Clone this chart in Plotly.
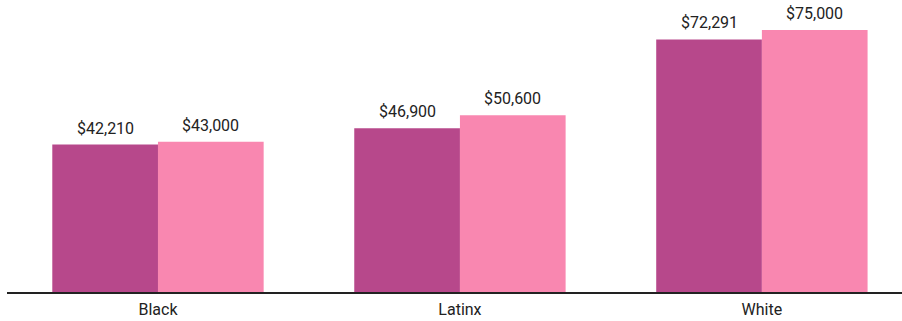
import plotly.graph_objects as go

categories = ["Black", "Latinx", "White"]
series_a = [42210, 46900, 72291]
series_b = [43000, 50600, 75000]
labels_a = ["$42,210", "$46,900", "$72,291"]
labels_b = ["$43,000", "$50,600", "$75,000"]

fig = go.Figure()
fig.add_trace(go.Bar(x=categories, y=series_a, marker_color="#b7488b",
                     marker_line_width=0, hoverinfo="skip"))
fig.add_trace(go.Bar(x=categories, y=series_b, marker_color="#f987b0",
                     marker_line_width=0, hoverinfo="skip"))

bar_w = (1 - 0.30) / 2
for i in range(len(categories)):
    for vals, labs, off in ((series_a, labels_a, -bar_w / 2), (series_b, labels_b, bar_w / 2)):
        fig.add_annotation(x=i + off, y=vals[i], text=labs[i], showarrow=False,
                           yanchor="bottom", yshift=5,
                           font=dict(size=16, color="#222", family="Roboto"))

fig.update_layout(
    width=902, height=321,
    margin=dict(l=7, r=0, t=0, b=29),
    barmode="group", bargap=0.30, bargroupgap=0,
    plot_bgcolor="white", paper_bgcolor="white",
    showlegend=False,
    font=dict(family="Roboto", size=16, color="#222"),
    xaxis=dict(range=[-0.5, 2.464], showline=True, linecolor="#222", linewidth=1.5,
               ticks="", showgrid=False, ticklabelstandoff=2,
               tickfont=dict(size=16, color="#222")),
    yaxis=dict(range=[0, 83588], visible=False, showgrid=False),
)
fig.write_html("out.html", config={"displayModeBar": False},
               post_script="document.body.style.margin='0';")
